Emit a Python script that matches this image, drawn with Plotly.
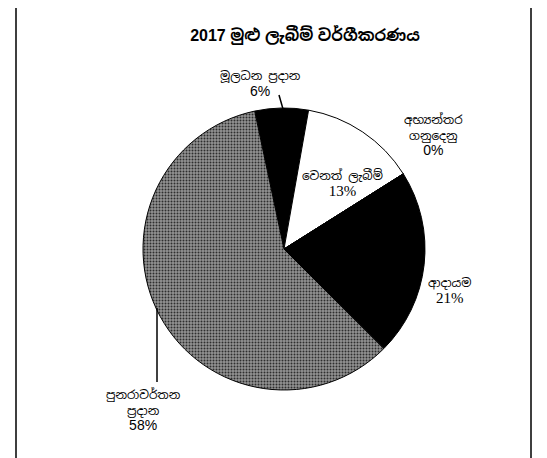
import plotly.graph_objects as go

title_text = "2017 මුළු ලැබීම් වර්ගීකරණය"
categories = ["මූලධන ප්‍රදාන", "වෙනත් ලැබීම්", "අභ්‍යන්තර ගනුදෙනු", "ආදායම", "පුනරාවර්තන ප්‍රදාන"]
# label line breaks as they appear in the chart
label_lines = ["මූලධන ප්‍රදාන", "වෙනත් ලැබීම්", "අභ්‍යන්තර<br>ගනුදෙනු", "ආදායම", "පුනරාවර්තන<br>ප්‍රදාන"]
values = [6, 13, 0, 21, 58]

W, H = 547, 458
cx, cy, r = 276, 241, 141

colors = ["black", "white", "white", "black", "#8a8a8a"]
shapes_pat = ["", "", "", "", "."]

fig = go.Figure()
fig.add_trace(go.Pie(
    labels=categories,
    values=values,
    sort=False,
    direction="clockwise",
    rotation=-12,
    textinfo="none",
    hoverinfo="label+value",
    marker=dict(
        colors=colors,
        line=dict(color="black", width=1),
        pattern=dict(shape=shapes_pat, fgcolor="#2e2e2e", bgcolor="#939393", size=3, solidity=0.35),
    ),
    domain=dict(x=[(cx - r) / W, (cx + r) / W], y=[1 - (cy + r) / H, 1 - (cy - r) / H]),
    showlegend=False,
))

sin_font = "Noto Sans Sinhala, Iskoola Pota, Noto Sans, DejaVu Sans, sans-serif"

def px(x, y):
    return x / W, 1 - y / H

# label anchor positions (pixel centres)
label_pos = [(252, 75), (334, 175), (425, 127), (442, 282), (135, 402)]
pct_serif = [False, True, False, True, False]

annotations = []
for i, (lab, v) in enumerate(zip(label_lines, values)):
    x, y = px(*label_pos[i])
    pct = f"{v}%"
    if pct_serif[i]:
        pct_html = f"<span style='font-family:Liberation Serif;font-size:15px'>{pct}</span>"
    else:
        pct_html = f"<span style='font-family:Liberation Sans;font-size:14px'>{pct}</span>"
    annotations.append(dict(
        x=x, y=y, xref="paper", yref="paper", showarrow=False,
        text=f"{lab}<br>{pct_html}", align="center",
        font=dict(family=sin_font, size=12, color="black"),
        xanchor="center", yanchor="middle",
    ))

fig.update_layout(
    width=W, height=H,
    margin=dict(l=0, r=0, t=0, b=0),
    paper_bgcolor="white",
    plot_bgcolor="white",
    title=dict(text=f"<b>{title_text}</b>", x=297 / W, y=1 - 27 / H,
               xanchor="center", yanchor="middle",
               font=dict(family="Arial, Liberation Sans, " + sin_font, size=16, color="black")),
    annotations=annotations,
    shapes=[
        # outer frame
        dict(type="rect", xref="paper", yref="paper",
             x0=8 / W, x1=523 / W, y0=1 - 453 / H, y1=1.02,
             line=dict(color="black", width=1.5), fillcolor="rgba(0,0,0,0)"),
        # leader line for 6%
        dict(type="line", xref="paper", yref="paper",
             x0=271 / W, y0=1 - 87 / H, x1=275 / W, y1=1 - 101 / H,
             line=dict(color="black", width=1.5)),
        # leader line for 58%
        dict(type="line", xref="paper", yref="paper",
             x0=149 / W, y0=1 - 300 / H, x1=149 / W, y1=1 - 374 / H,
             line=dict(color="black", width=1.5)),
    ],
)

fig.write_html("out.html")
